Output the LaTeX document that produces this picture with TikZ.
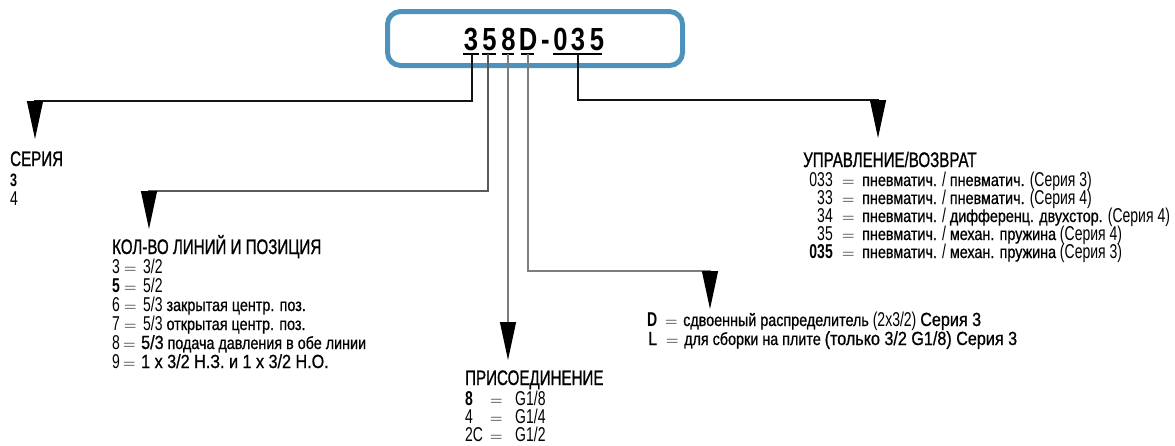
\documentclass[tikz,border=0pt]{standalone}
\usepackage{fontspec}
\usetikzlibrary{arrows.meta}
\setmainfont{Liberation Sans}
\newfontfamily\ttlf[FakeStretch=0.72,FakeBold=1.0]{Liberation Sans}
\newfontfamily\lgtf[FakeStretch=0.7]{Liberation Sans}
\newfontfamily\dscf[FakeStretch=0.82,FakeBold=0.8]{Liberation Sans}
\newfontfamily\medf[FakeStretch=0.85,FakeBold=0.8]{Liberation Sans}
\newfontfamily\codef[FakeStretch=0.8]{Liberation Sans}
\newcommand\Ttl{\ttlf\fontsize{21}{21}\selectfont}
\newcommand\Lgt{\lgtf\fontsize{20}{20}\selectfont}
\newcommand\Dsc{\dscf\fontsize{17.5}{17.5}\selectfont}
\newcommand\Med{\medf\fontsize{19}{19}\selectfont}
\newcommand\Bnum{\lgtf\bfseries\fontsize{20}{20}\selectfont}
\newcommand\Bsm{\lgtf\bfseries\fontsize{18}{18}\selectfont}
\definecolor{boxblue}{RGB}{76,146,186}
\definecolor{lnA}{RGB}{20,20,20}
\definecolor{lnB}{RGB}{90,90,90}
\definecolor{lnC}{RGB}{125,125,125}
\begin{document}
\begin{tikzpicture}[x=1pt,y=-1pt,
  ttl/.style={anchor=base west,inner sep=0pt,font=\Ttl},
  lgt/.style={anchor=base west,inner sep=0pt,font=\Lgt},
  lgtr/.style={anchor=base east,inner sep=0pt,font=\Lgt},
  bnum/.style={anchor=base west,inner sep=0pt,font=\Bnum},
  bnumr/.style={anchor=base east,inner sep=0pt,font=\Bnum},
  eqs/.style={anchor=base west,inner sep=0pt,font=\fontsize{18}{18}\selectfont},
  codech/.style={anchor=base,inner sep=0pt,font=\codef\bfseries\fontsize{32}{32}\selectfont},
  uline/.style={line width=1.2pt,black},
  con/.style={line width=1.2pt,-{Triangle[length=38pt,width=16pt,color=black,fill=black]}},
]
\useasboundingbox (0,0) rectangle (1175,445);
% code box
\node[draw=boxblue,line width=5pt,rounded corners=13pt,minimum width=295pt,minimum height=54pt,inner sep=0pt] (box) at (535,38.5) {};
\node[codech] (c1) at (471,50) {3};
\node[codech] (c2) at (489.5,50) {5};
\node[codech] (c3) at (508.5,50) {8};
\node[codech] (c4) at (528,50) {D};
\node[codech] (cd) at (545.5,50) {-};
\node[codech] (c5a) at (560.5,50) {0};
\node[codech] (c5) at (578,50) {3};
\node[codech] (c5b) at (597,50) {5};
% underlines
\draw[uline] (463,54) -- (479,54);
\draw[uline] (482,54) -- (496,54);
\draw[uline] (502,54) -- (514,54);
\draw[uline] (521,54) -- (534,54);
\draw[uline] (553,54) -- (602,54);
\coordinate (u1) at (472,54);
\coordinate (u2) at (488,54);
\coordinate (u3) at (508,54);
\coordinate (u4) at (528,54);
\coordinate (u5) at (578,54);
% corners and tips
\coordinate (k1) at (35,101);   \coordinate (t1) at (35,139);
\coordinate (k2) at (149,191);  \coordinate (t2) at (149,229);
\coordinate (t3) at (509,360);
\coordinate (k4) at (710,271);  \coordinate (t4) at (710,309);
\coordinate (k5) at (878,100);  \coordinate (t5) at (878,138);
\draw[con,lnA] (u1) |- (k1) -- (t1);
\draw[con,lnB] (u2) |- (k2) -- (t2);
\draw[con,lnC] (u3) -- (u3 |- t3);
\draw[con,lnC] (u4) |- (k4) -- (t4);
\draw[con,lnA] (u5) |- (k5) -- (t5);
% SERIES
\node[ttl] (s0) at (10,166) {СЕРИЯ};
\node[bnum,font=\Bsm] (s1) at (10,186) {3};
\node[lgt] (s2) at (10,205) {4};
% LINES AND POSITIONS
\node[ttl] (k0) at (112,254) {КОЛ-ВО ЛИНИЙ И ПОЗИЦИЯ};
\node[lgt] (ka1) at (112,273) {3};
\node[eqs] (ke1) at (124,273) {$=$};
\node[lgt] (kb1) at (143,273) {3/2};
\node[bnum] (ka2) at (112,292) {5};
\node[eqs] (ke2) at (124,292) {$=$};
\node[lgt] (kb2) at (143,292) {5/2};
\node[lgt] (ka3) at (112,311) {6};
\node[eqs] (ke3) at (124,311) {$=$};
\node[lgt] (kb3) at (143,311) {5/3 {\Dsc закрытая центр. поз.}};
\node[lgt] (ka4) at (112,330) {7};
\node[eqs] (ke4) at (124,330) {$=$};
\node[lgt] (kb4) at (143,330) {5/3 {\Dsc открытая центр. поз.}};
\node[lgt] (ka5) at (112,349) {8};
\node[eqs] (ke5) at (123,349) {$=$};
\node[lgt] (kb5) at (141,349) {{\Med 5/3} {\Dsc подача давления в обе линии}};
\node[lgt] (ka6) at (112,368) {9};
\node[eqs] (ke6) at (123,368) {$=$};
\node[lgt] (kb6) at (141,368) {\Med 1 x 3/2 Н.З. и 1 x 3/2 Н.О.};
% CONNECTION
\node[ttl] (p0) at (465,385) {ПРИСОЕДИНЕНИЕ};
\node[bnum] (pa1) at (465,405) {8};
\node[eqs] (pe1) at (490,405) {$=$};
\node[lgt] (pb1) at (515,405) {G1/8};
\node[lgt] (pa2) at (465,423) {4};
\node[eqs] (pe2) at (490,423) {$=$};
\node[lgt] (pb2) at (515,423) {G1/4};
\node[lgt] (pa3) at (465,441) {2C};
\node[eqs] (pe3) at (490,441) {$=$};
\node[lgt] (pb3) at (515,441) {G1/2};
% D / L
\node[bnum] (da1) at (647,326) {D};
\node[eqs] (de1) at (665,326) {$=$};
\node[lgt] (db1) at (683,326) {{\Dsc сдвоенный распределитель} (2x3/2) {\Med Серия 3}};
\node[lgt,font=\Med] (da2) at (648,345) {L};
\node[eqs] (de2) at (666,345) {$=$};
\node[lgt] (db2) at (684,345) {{\Dsc для сборки на плите} {\Med (только 3/2 G1/8) Серия 3}};
% CONTROL / RETURN
\node[ttl] (r0) at (803,167) {УПРАВЛЕНИЕ/ВОЗВРАТ};
\node[lgtr] (ra1) at (833,186) {033};
\node[eqs] (re1) at (842,186) {$=$};
\node[lgt] (rb1) at (862,186) {{\Dsc пневматич.} / {\Dsc пневматич.} (Серия 3)};
\node[lgtr] (ra2) at (833,204) {33};
\node[eqs] (re2) at (842,204) {$=$};
\node[lgt] (rb2) at (862,204) {{\Dsc пневматич.} / {\Dsc пневматич.} (Серия 4)};
\node[lgtr] (ra3) at (833,222) {34};
\node[eqs] (re3) at (842,222) {$=$};
\node[lgt] (rb3) at (862,222) {{\Dsc пневматич.} / {\Dsc дифференц. двухстор.} (Серия 4)};
\node[lgtr] (ra4) at (833,240) {35};
\node[eqs] (re4) at (842,240) {$=$};
\node[lgt] (rb4) at (862,240) {{\Dsc пневматич.} / {\Dsc механ. пружина} (Серия 4)};
\node[bnumr] (ra5) at (833,258) {035};
\node[eqs] (re5) at (842,258) {$=$};
\node[lgt] (rb5) at (862,258) {{\Dsc пневматич.} / {\Dsc механ. пружина} (Серия 3)};
\end{tikzpicture}
\end{document}
